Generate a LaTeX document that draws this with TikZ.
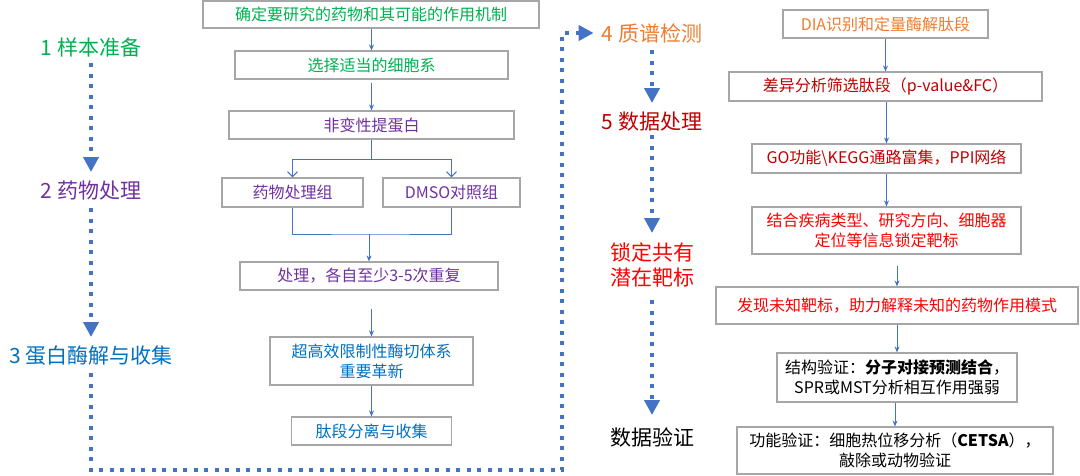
\documentclass[tikz,border=0pt]{standalone}
\usepackage{fontspec}
\setmainfont{Noto Sans CJK SC}
\usetikzlibrary{arrows.meta,calc}
\definecolor{cgreen}{HTML}{00B050}
\definecolor{cpurple}{HTML}{7030A0}
\definecolor{cblue}{HTML}{0070C0}
\definecolor{corange}{HTML}{ED7D31}
\definecolor{cdred}{HTML}{C00000}
\definecolor{cred}{HTML}{FF0000}
\definecolor{boxgray}{HTML}{A6A6A6}
\definecolor{arrblue}{HTML}{4472C4}
\begin{document}
\begin{tikzpicture}[x=1pt,y=-1pt,
  box/.style={draw=boxgray,line width=1.2pt,inner sep=0pt,align=center,font=\fontsize{16}{20}\selectfont},
  lab/.style={inner sep=0pt,align=center,font=\fontsize{21}{25}\selectfont},
  arr/.style={draw=arrblue,line width=1pt,-{Stealth[length=6pt,width=5pt]}},
  barb/.style={draw=arrblue,line width=1pt,-{Straight Barb[length=5pt,width=10pt]}},
  ln/.style={draw=arrblue,line width=1pt},
  bigdot/.style={draw=arrblue,line width=4pt,dash pattern=on 4pt off 6.5pt,-{Triangle[length=15pt,width=15pt]}}
]
\useasboundingbox (0,0) rectangle (1080,475);

% left labels
\node[lab,text=cgreen] (l1) at (91,47) {1 样本准备};
\node[lab,text=cpurple] (l2) at (91,191) {2 药物处理};
\node[lab,text=cblue] (l3) at (91,356) {3 蛋白酶解与收集};
% middle labels
\node[lab,text=corange] (l4) at (652,33) {4 质谱检测};
\node[lab,text=cdred] (l5) at (652,122) {5 数据处理};
\node[lab,text=cred] (l6) at (652,264.5) {锁定共有\\潜在靶标};
\node[lab,text=black] (l7) at (652,437) {数据验证};

% left flow boxes
\node[box,text=cgreen,minimum width=336pt,minimum height=27pt] (b1) at (371,14.5) {确定要研究的药物和其可能的作用机制};
\node[box,text=cgreen,minimum width=273pt,minimum height=28pt] (b2) at (371.5,65) {选择适当的细胞系};
\node[box,text=cpurple,minimum width=285pt,minimum height=28pt] (b3) at (371.5,125) {非变性提蛋白};
\node[box,text=cpurple,minimum width=141pt,minimum height=29pt] (b4) at (292.5,192.5) {药物处理组};
\node[box,text=cpurple,minimum width=137pt,minimum height=29pt] (b5) at (451.5,192.5) {DMSO对照组};
\node[box,text=cpurple,minimum width=258pt,minimum height=28pt] (b6) at (369,276) {处理，各自至少3-5次重复};
\node[box,text=cblue,minimum width=203pt,minimum height=48pt] (b7) at (371.5,361) {超高效限制性酶切体系\\重要革新};
\node[box,text=cblue,minimum width=160pt,minimum height=28pt] (b8) at (371.5,431) {肽段分离与收集};

% right flow boxes
\node[box,text=corange,minimum width=205pt,minimum height=28pt] (ra) at (885.5,24) {DIA识别和定量酶解肽段};
\node[box,text=cdred,minimum width=313pt,minimum height=29pt] (rb) at (885.5,86.5) {差异分析筛选肽段（p-value\&FC）};
\node[box,text=cdred,minimum width=269pt,minimum height=29pt] (rc) at (886.5,158.5) {GO功能\textbackslash KEGG通路富集，PPI网络};
\node[box,text=cred,minimum width=269pt,minimum height=47pt] (rd) at (886.5,230.5) {结合疾病类型、研究方向、细胞器\\定位等信息锁定靶标};
\node[box,text=cred,minimum width=362pt,minimum height=37pt] (re) at (897,305.5) {发现未知靶标，助力解释未知的药物作用模式};
\node[box,text=black,minimum width=240pt,minimum height=49pt] (rf) at (897,377.5) {结构验证：\textbf{分子对接预测结合}，\\SPR或MST分析相互作用强弱};
\node[box,text=black,minimum width=316pt,minimum height=47pt] (rg) at (895,450.5) {功能验证：细胞热位移分析（\textbf{CETSA}），\\敲除或动物验证};

% left flow connectors
\draw[arr] (b1.south -| b2.north) -- (b2.north);
\draw[arr,shorten <=3pt] (b2.south) -- (b3.north);
\coordinate (sp) at (371.5,159);
\draw[ln] (b3.south) -- (sp);
\draw[barb] (sp) -| (b4.north);
\draw[barb] (sp) -| (b5.north);
\coordinate (mg) at (369,234);
\draw[ln] (b4.south) |- (mg) -| (b5.south);
\draw[arr] (mg) -- (b6.north);
\draw[arr,shorten <=18pt] (b6.south -| b7.north) -- (b7.north);
\draw[arr] (b7.south) -- (b8.north);

% right flow connectors
\draw[arr] (ra.south) -- (rb.north);
\draw[arr] (rb.south -| rc.north) -- (rc.north);
\draw[arr] (rc.south) -- (rd.north);
\draw[arr,shorten <=11pt] (rd.south -| re.north) -- (re.north);
\draw[arr] (re.south) -- (rf.north);
\draw[arr] (rf.south -| rg.north) -- (rg.north);

% big dotted process arrows
\draw[bigdot] ($(l1.center)+(0,16)$) -- ($(l2.center)+(0,-19)$);
\draw[bigdot] ($(l2.center)+(0,17)$) -- ($(l3.center)+(0,-19)$);
\coordinate (c1) at (91,470);
\coordinate (c2) at (562,470);
\coordinate (c3) at (562,33);
\draw[bigdot] ($(l3.center)+(0,17)$) -- (c1) -- (c2) -- (c3) -- ($(l4.west)+(-8,0)$);
\draw[bigdot] ($(l4.center)+(0,17)$) -- ($(l5.center)+(0,-19)$);
\draw[bigdot] ($(l5.center)+(0,13)$) -- ($(l6.center)+(0,-31.5)$);
\draw[bigdot] ($(l6.center)+(0,35.5)$) -- ($(l7.center)+(0,-22)$);
\end{tikzpicture}
\end{document}
